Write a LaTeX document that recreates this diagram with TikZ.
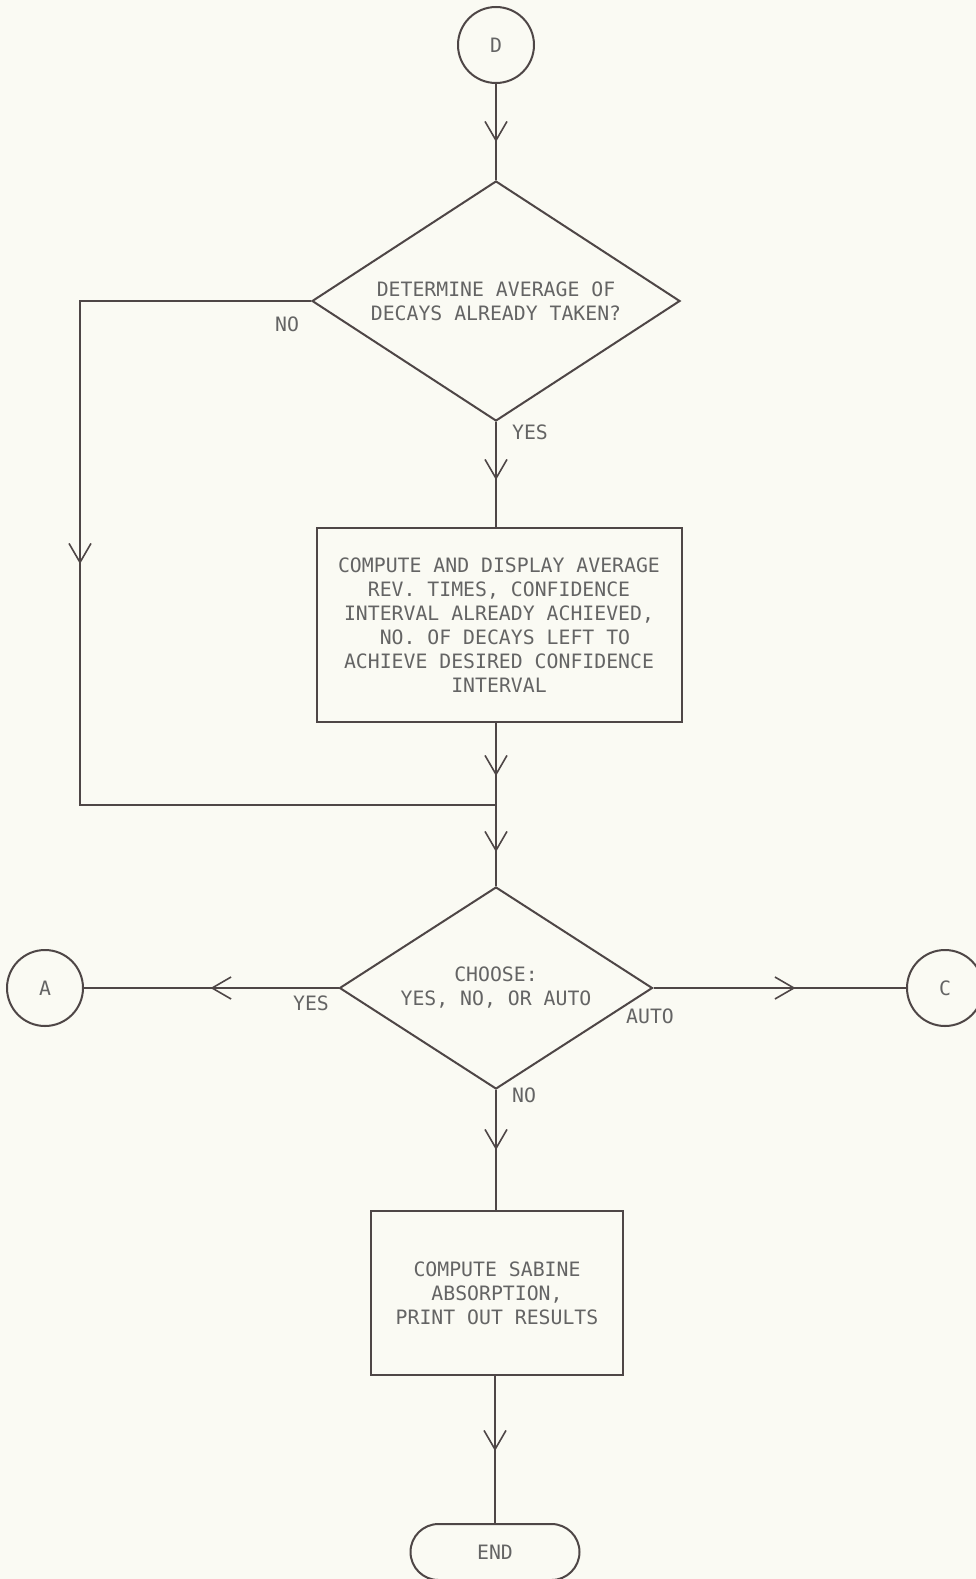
\documentclass[tikz,border=0pt]{standalone}
\usepackage{fontspec}
\setmonofont{DejaVu Sans Mono}
\usetikzlibrary{shapes.geometric,shapes.misc,arrows.meta,decorations.markings}
\definecolor{bg}{RGB}{250,250,243}
\definecolor{ln}{RGB}{78,70,70}
\definecolor{tx}{RGB}{100,100,100}
\tikzset{
  every node/.style={font=\ttfamily\fontsize{19.8}{24}\selectfont, text=tx},
  conn/.style={draw=ln, line width=2pt},
  midarr/.style={postaction={decorate,decoration={markings,
      mark=at position #1 with {\arrow[ln]{Straight Barb[length=19pt,width=22pt,line width=1.6pt]}}}}},
  connector/.style={circle,draw=ln,line width=2pt,minimum size=76pt,inner sep=0pt},
  decision/.style={diamond,draw=ln,line width=2pt,inner sep=0pt,aspect=1.53,align=center},
  process/.style={rectangle,draw=ln,line width=2pt,align=center,inner sep=0pt},
  terminal/.style={rounded rectangle,draw=ln,line width=2pt,inner sep=0pt},
  lbl/.style={inner sep=0pt}
}
\begin{document}
\begin{tikzpicture}[x=1pt,y=-1pt]
\fill[bg] (0,0) rectangle (976,1579);
\useasboundingbox (0,0) rectangle (976,1579);

\node[connector] (D) at (496,45) {D};
\node[decision,minimum width=368pt,minimum height=240pt] (d1) at (496,301)
  {DETERMINE AVERAGE OF\\DECAYS ALREADY TAKEN?};
\node[process,minimum width=365pt,minimum height=194pt] (p1) at (499,625)
  {COMPUTE AND DISPLAY AVERAGE\\REV. TIMES, CONFIDENCE\\INTERVAL ALREADY ACHIEVED,\\\ NO. OF DECAYS LEFT TO\\ACHIEVE DESIRED CONFIDENCE\\INTERVAL};
\coordinate (lc) at (80,805);
\coordinate (m) at (496,805);
\node[decision,minimum width=313pt,minimum height=202pt] (d2) at (496,988)
  {CHOOSE:\\YES, NO, OR AUTO};
\node[connector] (A) at (45,988) {A};
\node[connector] (C) at (945,988) {C};
\node[process,minimum width=252pt,minimum height=164pt] (p2) at (497,1293)
  {COMPUTE SABINE\\ABSORPTION,\\PRINT OUT RESULTS};
\node[terminal,minimum width=169pt,minimum height=56pt] (E) at (495,1552) {END};

\draw[conn,midarr=58pt] (D) -- (d1);
\draw[conn,midarr=58pt] (d1.south) -- (d1.south |- p1.north);
\draw[conn,midarr=494pt] (d1.west) -| (lc) -- (m);
\draw[conn,midarr=53pt] (p1.south -| m) -- (m);
\draw[conn,midarr=47pt] (m) -- (d2.north);
\draw[conn,midarr=128pt] (d2.west) -- (A);
\draw[conn,midarr=142pt] (d2.east) -- (C);
\draw[conn,midarr=60pt] (d2.south) -- (d2.south |- p2.north);
\draw[conn,midarr=75pt] (p2.south -| E.north) -- (E.north);

\node[lbl] (l1) at (287,324) {NO};
\node[lbl] (l2) at (530,432) {YES};
\node[lbl] (l3) at (311,1003) {YES};
\node[lbl] (l4) at (650,1016) {AUTO};
\node[lbl] (l5) at (524,1095) {NO};
\end{tikzpicture}
\end{document}
